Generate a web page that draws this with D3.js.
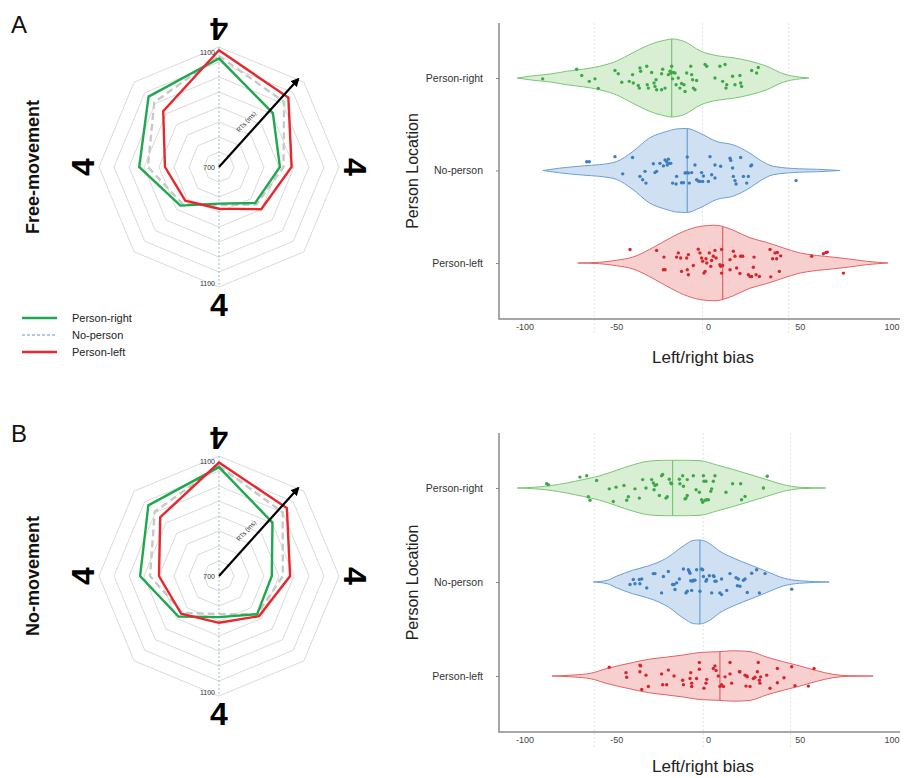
<!DOCTYPE html>
<html>
<head>
<meta charset="utf-8">
<script src="https://cdn.jsdelivr.net/npm/d3@7"></script>
<style>
  body { margin: 0; background: #fff; }
  svg { display: block; font-family: "Liberation Sans", Arial, sans-serif; }
</style>
</head>
<body>
<svg id="fig" width="905" height="778"></svg>
<script>
// ---------- radar data: mean RTs (ms), 8 directions clockwise from top ----------
var levels = [750, 800, 850, 900, 950, 1000, 1050, 1100];
var seriesNames = ["Person-right", "No-person", "Person-left"];

var freeRight = [1062, 954, 903, 870, 822, 882, 966, 1032];
var freeNone  = [1070, 1007, 915, 877, 827, 873, 937, 1005];
var freeLeft  = [1089, 1027, 942, 899, 839, 859, 880, 963];

var noRight = [1063, 952, 876, 880, 837, 891, 963, 1033];
var noNone  = [1067, 1000, 913, 880, 827, 873, 930, 1003];
var noLeft  = [1078, 1020, 937, 889, 856, 878, 900, 977];

// ---------- violin data: density profiles [bias, relative density] ----------
var densFreeRight = [[-104,0],[-95,0.055],[-86,0.095],[-77,0.16],[-68,0.21],[-59,0.28],[-50,0.4],[-41,0.6],
  [-32,0.79],[-22.5,0.91],[-20,0.93],[-13,0.87],[-4,0.64],[5,0.53],[14,0.48],[23,0.4],[32,0.28],[41,0.1],[50,0.02],[55,0]];
var densFreeNone = [[-90,0],[-81,0.055],[-68,0.11],[-59,0.14],[-50,0.21],[-41,0.45],[-32,0.77],[-22.5,0.93],
  [-17,0.99],[-11.6,1],[-4.4,0.89],[4.7,0.69],[13.8,0.61],[22.9,0.41],[28.3,0.25],[35.6,0.1],[50,0.04],[59,0.03],[72,0]];
var densFreeLeft = [[-71,0],[-59,0.017],[-50,0.064],[-41,0.14],[-32,0.32],[-22.5,0.55],[-13.4,0.75],[-4.4,0.87],
  [3.8,0.9],[8,0.87],[13.8,0.78],[22.9,0.6],[32,0.49],[41,0.36],[50,0.24],[59,0.18],[68,0.14],[77,0.095],[86.5,0.04],[98,0]];

var densNoRight = [[-104,0],[-95,0.017],[-86,0.055],[-77,0.12],[-68,0.2],[-59,0.29],[-50,0.42],[-41,0.55],
  [-32,0.64],[-22.5,0.66],[-13.4,0.66],[-4.4,0.65],[4.7,0.55],[13.8,0.44],[22.9,0.32],[32,0.2],[41,0.08],[50,0.017],[64,0]];
var densNoNone = [[-62.5,0],[-55,0.04],[-50,0.135],[-41,0.28],[-32,0.39],[-22.5,0.57],[-13.4,0.86],[-8,0.99],
  [-4.4,1],[1,0.91],[6.5,0.73],[13.8,0.57],[22.9,0.41],[32,0.25],[41,0.095],[50,0.03],[66,0]];
var densNoLeft = [[-85,0],[-73,0.024],[-64,0.064],[-55,0.18],[-41,0.32],[-32,0.4],[-22.5,0.45],[-13.4,0.5],
  [-4.4,0.56],[6.5,0.58],[13.8,0.6],[22.9,0.58],[32,0.45],[41,0.34],[50,0.24],[59,0.13],[68,0.04],[77,0.007],[90,0]];

// medians
var mediansFree = [-19.8, -11.3, 8.0];
var mediansNo   = [-19.3, -4.4, 6.5];

// faint reference lines on the bias axis
var refLinesFree = [-62, -3, 44];
var refLinesNo   = [-62, -2.6, 45];
var biasTicks = [-100, -50, 0, 50, 100];

// ---------- participants: [bias, vertical jitter (in density units)] ----------
var ptsFreeRight = [[-71.6,-0.21],[-90.1,0.02],[-68.8,-0.06],[-64.7,0.08],[-61.6,0.02],[-59.8,0.25],[-50.7,-0.18],[-48.9,-0.1],
  [-47,0.1],[-42.9,0.08],[-41.1,-0.08],[-40.7,0.12],[-38,0.18],[-37.4,0.24],[-37.1,-0.24],[-36.7,-0.16],[-33.4,-0.28],[-33.1,0.16],
  [-32.5,0.24],[-30.7,-0.13],[-29.4,0.12],[-28.3,0.04],[-28.9,0.2],[-28,0.28],[-25.3,0.28],[-25.3,-0.1],[-24.7,-0.21],[-23.4,0.24],
  [-21.6,-0.08],[-20.7,-0.16],[-20.3,-0.12],[-19.8,-0.28],[-19.3,0.02],[-18.9,-0.13],[-18,-0.12],[-17.4,0.16],[-16.2,0],[-15.3,0.24],
  [-14.4,0.13],[-13.1,0.16],[-12.5,0.32],[-11.6,-0.12],[-9.4,-0.28],[-8.9,-0.08],[-8.4,0.04],[-8,0.24],[-7.1,0.28],[-6.2,0.06],
  [-1.6,-0.32],[-0.7,-0.28],[3.8,0],[6.5,-0.28],[8,0.08],[9.3,-0.32],[9.8,0.24],[10.2,0.16],[13.4,-0.04],[14.7,0.16],
  [17.4,-0.06],[17.8,0.12],[18.3,0.2],[23.8,-0.18],[26.5,-0.12],[27.4,-0.25]];
var ptsFreeNone = [[-66.1,-0.21],[-64.7,-0.21],[-50.7,-0.33],[-46.5,0.08],[-41.1,-0.31],[-37.1,0.14],[-35.6,0.22],[-34.3,0.02],
  [-33.8,0.3],[-29.8,-0.16],[-28.9,0.05],[-28,0.02],[-26.2,-0.17],[-24.3,-0.11],[-23.4,-0.25],[-22.5,-0.21],[-22.2,-0.13],[-21.6,-0.27],
  [-21.1,-0.17],[-20.3,-0.17],[-19.3,0.3],[-17.4,0.32],[-17.1,0.14],[-14.4,0.29],[-13.4,0.29],[-12.5,0.06],[-11.6,0.05],[-11.3,-0.32],
  [-10.7,0.06],[-10.2,0.3],[-8.9,0.05],[-7.1,-0.13],[-6.2,0.22],[-5.3,0.25],[-4.4,0.26],[-3.5,0.05],[-2.9,0.26],[-2.5,0.13],
  [0.2,0.26],[1.1,-0.33],[2,0.1],[3.8,0.18],[3.8,-0.13],[6.9,-0.1],[12,-0.29],[12.4,-0.24],[13.4,-0.06],[13.8,0.14],
  [14.7,0.24],[15.3,0.32],[17.8,-0.31],[19.3,0.14],[21.1,0.3],[22,0.14],[23.3,-0.11],[23.8,-0.13],[48,0.24]];
var ptsFreeLeft = [[-42.5,-0.32],[-28,-0.3],[-24,-0.14],[-24.3,0.16],[-23.4,0.16],[-17.1,-0.14],[-16.2,-0.24],[-14.9,-0.12],
  [-14.4,0.2],[-11.6,-0.12],[-11.3,0.16],[-10.7,0.28],[-10.7,-0.2],[-8,0.06],[-5.3,-0.33],[-4.4,-0.24],[-3.5,-0.12],[-2.9,-0.04],
  [-2.2,0.24],[-1.6,0.2],[-1.1,-0.1],[-0.7,0],[0.7,-0.24],[1.5,0.08],[2,-0.06],[2.9,-0.16],[3.8,-0.3],[4.4,-0.12],
  [6.5,0.04],[6.9,0.08],[7.4,0.24],[7.4,-0.32],[8,0.06],[12,-0.08],[12,0.16],[13.8,-0.28],[14.7,-0.16],[15.6,0.12],
  [17.4,0.25],[17.8,-0.16],[18.9,-0.16],[22,0.28],[22.9,0.32],[23.8,0.32],[24.7,0.1],[25.1,-0.14],[26.2,0.28],[28,0.32],
  [33.8,-0.32],[34.2,0.33],[35.2,-0.1],[36.5,-0.24],[37.4,-0.1],[37.8,-0.25],[38.9,0.2],[39.6,-0.17],[56.5,-0.16],[62.9,-0.22],
  [64.3,-0.25],[65,-0.26],[73.8,0.24]];

var ptsNoRight = [[-87.9,-0.1],[-87,-0.08],[-69.8,-0.26],[-66.1,-0.29],[-65.2,0.21],[-64.3,0.29],[-60.7,-0.18],[-53.8,0.02],
  [-51.6,0.32],[-50.1,-0.02],[-45.8,-0.06],[-44.3,0.29],[-43.4,0.21],[-39.8,0.02],[-37.4,0.24],[-35.6,-0.2],[-33.8,0],[-30.7,-0.2],
  [-29.8,-0.12],[-29.4,0.04],[-28.9,-0.06],[-28,-0.08],[-26.5,0.18],[-25.3,-0.29],[-24.7,-0.32],[-22.9,0.24],[-22.2,0.21],[-21.1,-0.21],
  [-20.3,-0.12],[-19.8,-0.1],[-15.6,-0.21],[-15.3,-0.1],[-13.8,-0.29],[-13.4,-0.04],[-12.5,0.26],[-12,0.24],[-11.3,0.18],[-11.3,-0.2],
  [-8,-0.29],[-6.5,0.04],[-4.7,0.1],[-3.5,0.28],[-2.9,0.34],[-2.5,-0.29],[-2.2,-0.16],[-1.6,0.29],[-1.1,-0.16],[-0.7,0.28],
  [0.2,0.28],[1.5,0.08],[2,0.02],[2.9,-0.16],[3.8,-0.29],[9.8,0.1],[13.4,-0.1],[17.8,-0.1],[18.3,0.28],[20.2,0.2],
  [30.2,0],[32.3,-0.28]];
var ptsNoNone = [[-42.5,0.06],[-40.7,-0.06],[-39.8,0.04],[-37.4,-0.06],[-37.1,0.04],[-36.1,-0.07],[-33.4,0.14],[-29.8,-0.2],
  [-28.9,-0.2],[-25.3,0.26],[-24.3,-0.13],[-21.6,-0.25],[-19.3,0.06],[-18.5,0.06],[-18,0.18],[-17.1,0.02],[-15.6,-0.07],[-13.4,-0.31],
  [-12,0.26],[-11.3,0.22],[-10.7,-0.29],[-10.2,-0.25],[-9.8,-0.21],[-9.4,-0.03],[-8.9,0.2],[-8.4,-0.02],[-8,-0.04],[-7.1,-0.04],
  [-6.2,-0.29],[-4.4,0.22],[-3.5,-0.31],[-2.9,-0.29],[-2.5,-0.13],[-1.1,-0.02],[-0.7,-0.06],[0.7,-0.15],[2,0.26],[2.9,-0.15],
  [3.3,-0.13],[3.8,-0.02],[4.4,-0.02],[6.5,0.26],[7.4,0.3],[7.4,-0.07],[10.2,0.2],[12,-0.2],[15.3,-0.1],[16,0.09],
  [16.5,-0.07],[17.4,0.1],[19.3,-0.04],[20.2,-0.07],[21.4,0.25],[23.8,-0.21],[26.5,-0.29],[28,0.26],[31.1,-0.2],[45.6,0.17]];
var ptsNoLeft = [[-53.8,-0.21],[-44.7,-0.08],[-44.3,0.03],[-37.1,-0.26],[-36.7,-0.24],[-37.1,-0.1],[-36.1,0.32],[-33.8,-0.02],
  [-32.5,0.25],[-25.3,-0.05],[-24.7,0.21],[-22.5,0.21],[-21.6,-0.14],[-18.5,0],[-13.8,0.1],[-13.4,0.21],[-9.8,0.06],[-9.4,-0.08],
  [-8.9,0.25],[-8.9,0.17],[-6.2,0.06],[-4.7,-0.32],[-4.7,-0.16],[-2.2,0.29],[-1.1,0.17],[-0.7,0.08],[2.9,-0.18],[3.8,-0.24],
  [4.4,-0.13],[5.6,0],[6.5,0.25],[7.4,0.21],[8.4,0.25],[9.3,0.02],[12,-0.32],[12,-0.05],[12.9,0.17],[17.1,-0.1],
  [17.4,-0.1],[20.2,-0.02],[20.7,0.24],[21.1,0],[21.4,0.02],[22.9,0.25],[24.7,0.06],[25.6,0.03],[26.9,-0.1],[27.4,-0.32],
  [28,0.1],[28.3,0.17],[28.7,0.02],[32,-0.02],[33.8,0.29],[37.8,-0.18],[37.8,0.16],[41.4,0.04],[45.6,-0.22],[47.4,0.23],
  [54.7,0.24],[57.8,-0.18]];

// ---------- styling ----------
var radarColors = { "Person-right": "#1fa84f", "No-person": "#c9c9c9", "Person-left": "#e8262b" };
var violinStyle = {
  "Person-right": { fill: "#d8efd4", stroke: "#7cc576", dot: "#3da846" },
  "No-person":    { fill: "#cfe0f2", stroke: "#6c9fd4", dot: "#3a7dc2" },
  "Person-left":  { fill: "#f8cfcf", stroke: "#e06464", dot: "#d7262b" }
};

var svg = d3.select("#fig");

var panels = [
  { letter: "A", title: "Free-movement", cx: 219, cy: 167,
    radar: [freeRight, freeNone, freeLeft],
    dens: [densFreeRight, densFreeNone, densFreeLeft],
    pts: [ptsFreeRight, ptsFreeNone, ptsFreeLeft],
    medians: mediansFree, refLines: refLinesFree,
    plotTop: 23, plotBottom: 319, catTop: 78, catBottom: 263, xTitleGap: 44 },
  { letter: "B", title: "No-movement", cx: 219, cy: 576,
    radar: [noRight, noNone, noLeft],
    dens: [densNoRight, densNoNone, densNoLeft],
    pts: [ptsNoRight, ptsNoNone, ptsNoLeft],
    medians: mediansNo, refLines: refLinesNo,
    plotTop: 433, plotBottom: 732, catTop: 488, catBottom: 676, xTitleGap: 40 }
];

var R = 120;
var rScale = d3.scaleLinear().domain([700, 1100]).range([0, R]);
var nDir = 8;
var angle = function (i) { return i * 2 * Math.PI / nDir; };

// arrowhead
svg.append("defs").append("marker")
  .attr("id", "arrowHead")
  .attr("viewBox", "0 0 10 10")
  .attr("refX", 8).attr("refY", 5)
  .attr("markerWidth", 4).attr("markerHeight", 4)
  .attr("orient", "auto")
  .append("path").attr("d", "M0,0 L10,5 L0,10 z").attr("fill", "#000");

panels.forEach(function (p) {
  // panel letter + row title
  svg.append("text").attr("x", 11).attr("y", p.cy - 134)
    .attr("font-size", 24).attr("fill", "#111").text(p.letter);
  svg.append("text")
    .attr("transform", "translate(39," + p.cy + ") rotate(-90)")
    .attr("text-anchor", "middle").attr("font-size", 18).attr("font-weight", "bold")
    .attr("fill", "#111").text(p.title);

  // ----- radar -----
  var g = svg.append("g").attr("transform", "translate(" + p.cx + "," + p.cy + ")");

  var ring = d3.lineRadial()
    .angle(function (d, i) { return angle(i); })
    .radius(function (d) { return rScale(d); })
    .curve(d3.curveLinearClosed);

  g.selectAll(".grid").data(levels).enter().append("path")
    .attr("d", function (lv) { return ring(d3.range(nDir).map(function () { return lv; })); })
    .attr("fill", "none").attr("stroke", "#dadada").attr("stroke-width", 1);

  g.append("line")
    .attr("x1", 0).attr("y1", -rScale(1100)).attr("x2", 0).attr("y2", rScale(1100))
    .attr("stroke", "#9fb9de").attr("stroke-width", 1).attr("stroke-dasharray", "2,2");

  // series: No-person first, then Person-right, Person-left on top
  [1, 0, 2].forEach(function (k) {
    var name = seriesNames[k];
    g.append("path")
      .attr("d", ring(p.radar[k]))
      .attr("fill", "none")
      .attr("stroke", radarColors[name])
      .attr("stroke-width", 2.4)
      .attr("stroke-dasharray", k === 1 ? "7,4" : null);
  });

  // value labels
  g.append("text").attr("x", -4).attr("y", -rScale(1100) + 8)
    .attr("text-anchor", "end").attr("font-size", 7).attr("fill", "#333").text("1100");
  g.append("text").attr("x", -4).attr("y", rScale(1100) - 1)
    .attr("text-anchor", "end").attr("font-size", 7).attr("fill", "#333").text("1100");
  g.append("text").attr("x", -4).attr("y", 2.5)
    .attr("text-anchor", "end").attr("font-size", 7).attr("fill", "#333").text("700");

  // RT arrow
  var arrowDeg = 42, arrowLen = rScale(1095);
  var ax = arrowLen * Math.sin(arrowDeg * Math.PI / 180),
      ay = -arrowLen * Math.cos(arrowDeg * Math.PI / 180);
  g.append("line").attr("x1", 0).attr("y1", 0).attr("x2", ax).attr("y2", ay)
    .attr("stroke", "#000").attr("stroke-width", 2.2).attr("marker-end", "url(#arrowHead)");
  g.append("text")
    .attr("transform", "translate(" + (ax * 0.44 - 6) + "," + (ay * 0.44 - 5) + ") rotate(" + (arrowDeg - 90) + ")")
    .attr("text-anchor", "middle").attr("font-size", 6.5).attr("fill", "#333").text("RTs (ms)");

  // direction glyphs
  [0, 2, 4, 6].forEach(function (i) {
    var a = angle(i), rr = 137;
    var tx = rr * Math.sin(a), ty = -rr * Math.cos(a);
    g.append("text")
      .attr("transform", "translate(" + tx + "," + ty + ") rotate(" + (180 - i * 45) + ")")
      .attr("text-anchor", "middle").attr("dy", "0.36em")
      .attr("font-size", 32).attr("font-weight", "bold").attr("fill", "#000").text("4");
  });

  // ----- violins -----
  var x = d3.scaleLinear().domain([-100, 100]).range([524.5, 891.5]);
  var y = d3.scalePoint().domain(seriesNames).range([p.catTop, p.catBottom]);
  var w = d3.scaleLinear().domain([0, 1]).range([0, 42]);
  var vg = svg.append("g");

  vg.selectAll(".ref").data(p.refLines).enter().append("line")
    .attr("x1", function (d) { return x(d); }).attr("x2", function (d) { return x(d); })
    .attr("y1", p.plotTop).attr("y2", p.plotBottom + 16)
    .attr("stroke", "#e2e2e2").attr("stroke-width", 1).attr("stroke-dasharray", "2,2");

  seriesNames.forEach(function (name, k) {
    var st = violinStyle[name], yc = y(name), dens = p.dens[k];
    var area = d3.area()
      .curve(d3.curveMonotoneX)
      .x(function (d) { return x(d[0]); })
      .y0(function (d) { return yc - w(d[1]); })
      .y1(function (d) { return yc + w(d[1]); });
    vg.append("path").attr("d", area(dens))
      .attr("fill", st.fill).attr("stroke", st.stroke).attr("stroke-width", 1);

    var densAt = d3.scaleLinear().domain(dens.map(function (d) { return d[0]; }))
      .range(dens.map(function (d) { return d[1]; }));
    var m = p.medians[k];
    vg.append("line")
      .attr("x1", x(m)).attr("x2", x(m))
      .attr("y1", yc - w(densAt(m))).attr("y2", yc + w(densAt(m)))
      .attr("stroke", st.stroke).attr("stroke-width", 1.2);

    vg.selectAll(null).data(p.pts[k]).enter().append("circle")
      .attr("cx", function (d) { return x(d[0]); })
      .attr("cy", function (d) { return yc + w(d[1]); })
      .attr("r", 1.7).attr("fill", st.dot);
  });

  // axes
  var axisLeft = d3.axisLeft(y).tickSize(3).tickPadding(13);
  var yAx = vg.append("g").attr("transform", "translate(499,0)").call(axisLeft);
  yAx.select(".domain").remove();
  yAx.selectAll("line").attr("stroke", "#888");
  yAx.selectAll("text").attr("font-size", 10.5).attr("fill", "#333")
    .attr("font-family", "'Liberation Sans', Arial, sans-serif");

  var axisBottom = d3.axisBottom(x).tickValues(biasTicks).tickFormat(String).tickSize(0).tickPadding(5);
  var xAx = vg.append("g").attr("transform", "translate(0," + p.plotBottom + ")").call(axisBottom);
  xAx.select(".domain").remove();
  xAx.selectAll("text").attr("font-size", 9).attr("fill", "#444")
    .attr("font-family", "'Liberation Sans', Arial, sans-serif");

  vg.append("path")
    .attr("d", "M499," + p.plotTop + "V" + p.plotBottom + "H900")
    .attr("fill", "none").attr("stroke", "#8a8a8a").attr("stroke-width", 1.5);

  vg.append("text")
    .attr("transform", "translate(418," + ((p.plotTop + p.plotBottom) / 2) + ") rotate(-90)")
    .attr("text-anchor", "middle").attr("font-size", 16).attr("fill", "#222").text("Person Location");
  vg.append("text")
    .attr("x", 703).attr("y", p.plotBottom + p.xTitleGap)
    .attr("text-anchor", "middle").attr("font-size", 17).attr("fill", "#222").text("Left/right bias");
});

// ---------- legend ----------
var legendStyle = [
  { name: "Person-right", color: "#1fa84f", dash: null, width: 2.4 },
  { name: "No-person", color: "#9ab5e0", dash: "3,2", width: 1.3 },
  { name: "Person-left", color: "#e8262b", dash: null, width: 2.4 }
];
var lg = svg.append("g").attr("transform", "translate(22,318)");
lg.selectAll("g").data(legendStyle).enter().append("g")
  .attr("transform", function (d, i) { return "translate(0," + (i * 17) + ")"; })
  .each(function (d) {
    var s = d3.select(this);
    s.append("line").attr("x1", 0).attr("x2", 35).attr("y1", 0).attr("y2", 0)
      .attr("stroke", d.color).attr("stroke-width", d.width).attr("stroke-dasharray", d.dash);
    s.append("text").attr("x", 50).attr("y", 4).attr("font-size", 11).attr("fill", "#222").text(d.name);
  });
</script>
</body>
</html>
